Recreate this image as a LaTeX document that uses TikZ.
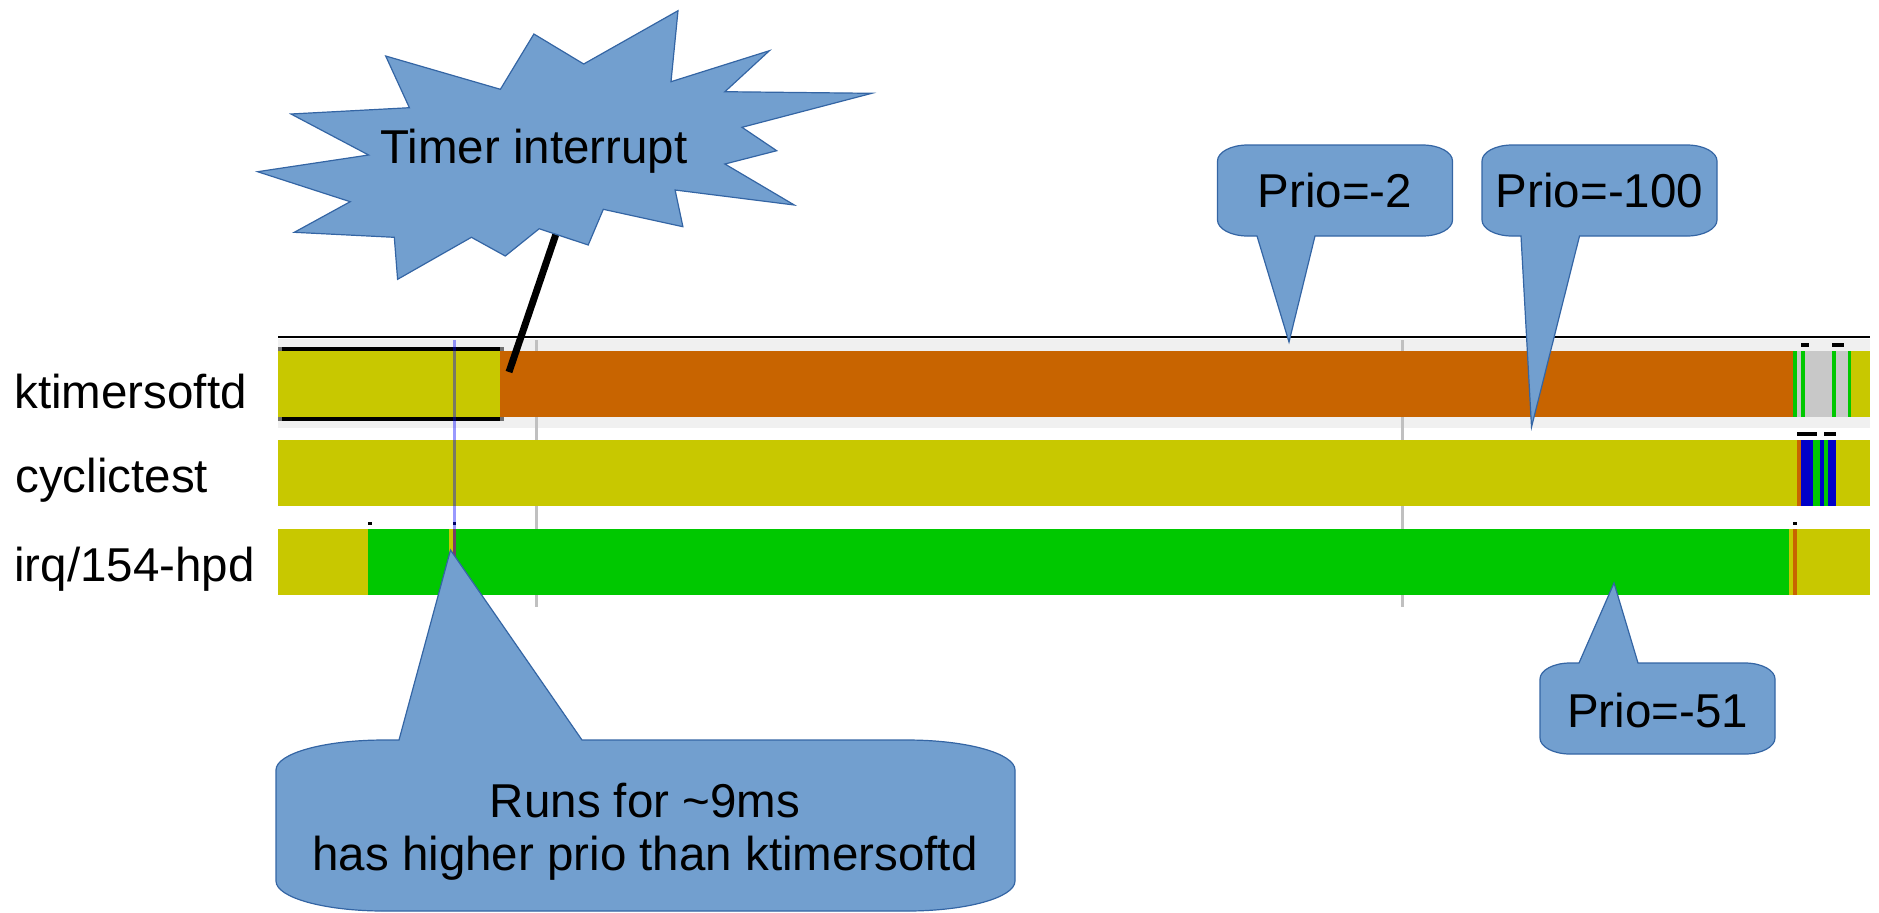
\documentclass[tikz,border=0pt]{standalone}
\usepackage{fontspec}
\setmainfont{Liberation Sans}
\definecolor{tyel}{HTML}{C8C800}
\definecolor{torg}{HTML}{C86400}
\definecolor{tgrn}{HTML}{00C800}
\definecolor{tblu}{HTML}{0000C8}
\definecolor{tlgr}{HTML}{C8C8C8}
\definecolor{tband}{HTML}{F0F0F0}
\definecolor{tgrid}{HTML}{C0C0C0}
\definecolor{thdl}{HTML}{707070}
\definecolor{cfill}{HTML}{729FCF}
\definecolor{cedge}{HTML}{3465A4}
\begin{document}
\begin{tikzpicture}[x=0.5pt,y=-0.5pt,
  bigfont/.style={font=\fontsize{23.75}{26.5}\selectfont},
  lbl/.style={bigfont, anchor=base west, inner sep=0pt},
  ctext/.style={bigfont, anchor=base, inner sep=0pt},
  callout/.style={fill=cfill, draw=cedge, line width=0.6pt, line join=miter},
  gridln/.style={draw=tgrid, line width=1.75pt},
  tick/.style={fill=black},
]
\useasboundingbox (0,0) rectangle (1879,912);

% ktimersoftd background band and top rule
\fill[tband] (278,339) rectangle (1870,428);
\draw[black, line width=1pt] (278,337) -- (1870,337);

% grid lines
\draw[gridln] (536.5,340) -- (536.5,607);
\draw[gridln] (1402.5,340) -- (1402.5,607);

% ktimersoftd bar
\fill[tyel] (278,351) rectangle (500,417);
\fill[torg] (500,351) rectangle (1793,417);
\fill[tgrn] (1793,351) rectangle (1797,417);
\fill[tlgr] (1797,351) rectangle (1801,417);
\fill[tgrn] (1801,351) rectangle (1805,417);
\fill[tlgr] (1805,351) rectangle (1832,417);
\fill[tgrn] (1832,351) rectangle (1836,417);
\fill[tlgr] (1836,351) rectangle (1848,417);
\fill[tgrn] (1848,351) rectangle (1851,417);
\fill[tyel] (1851,351) rectangle (1870,417);

% selection lines on the first slice
\fill[black] (282,347) rectangle (500,351);
\fill[black] (282,417) rectangle (500,421);
\fill[thdl] (278,347) rectangle (282,351);
\fill[thdl] (500,347) rectangle (504,351);
\fill[thdl] (278,417) rectangle (282,421);
\fill[thdl] (500,417) rectangle (504,421);

% cyclictest bar
\fill[tyel] (278,440) rectangle (1797,506);
\fill[torg] (1797,440) rectangle (1801,506);
\fill[tblu] (1801,440) rectangle (1813,506);
\fill[tgrn] (1813,440) rectangle (1820,506);
\fill[tblu] (1820,440) rectangle (1824,506);
\fill[tgrn] (1824,440) rectangle (1828,506);
\fill[tblu] (1828,440) rectangle (1836,506);
\fill[tyel] (1836,440) rectangle (1870,506);

% irq/154-hpd bar
\fill[tyel] (278,529) rectangle (368,595);
\fill[tgrn] (368,529) rectangle (449,595);
\fill[tyel] (449,529) rectangle (453,595);
\fill[torg] (453,529) rectangle (456,595);
\fill[tgrn] (456,529) rectangle (1789,595);
\fill[tyel] (1789,529) rectangle (1793,595);
\fill[torg] (1793,529) rectangle (1797,595);
\fill[tyel] (1797,529) rectangle (1870,595);

% small event marks
\fill[tick] (1801,343) rectangle (1809,347);
\fill[tick] (1832,343) rectangle (1844,347);
\fill[tick] (1797,432) rectangle (1817,436);
\fill[tick] (1824,432) rectangle (1836,436);
\fill[tick] (368,522) rectangle (372,525);
\fill[tick] (453,522) rectangle (456,525);
\fill[tick] (1793,522) rectangle (1797,525);

% cursor line
\draw[blue, opacity=0.4, line width=1.5pt] (454.5,340) -- (454.5,595);

% row labels
\node[lbl] (lk) at (14,408) {ktimersoftd};
\node[lbl] (lc) at (15,492) {cyclictest};
\node[lbl] (li) at (14,581) {irq/154-hpd};

% pointer from the star to ktimersoftd
\coordinate (starfoot) at (558,228);
\coordinate (ktend) at (509,372);
\draw[black, line width=3.5pt] (starfoot) -- (ktend);

% star
\draw[callout] (257.6,171.7) -- (350.2,201.7) -- (294.3,232.3) -- (394.3,237.3)
  -- (397.6,279.3) -- (471.4,237.3) -- (505.3,256) -- (539.2,228.7)
  -- (588.2,245) -- (603.3,209.3) -- (682.9,226.7) -- (675.1,190)
  -- (794.3,205) -- (724.9,164) -- (776.7,150.7) -- (742,127.3)
  -- (871.8,93.3) -- (724.9,91.7) -- (769.4,50.7) -- (671,81.7)
  -- (678,10.7) -- (583.7,64) -- (533.9,34) -- (500.4,89.3)
  -- (385.7,56) -- (409.4,107.7) -- (291,114) -- (368.6,155) -- cycle;
\node[ctext, anchor=base west] (timer) at (380,163) {Timer interrupt};

% callout Prio=-2
\draw[callout] (1247.5,145) -- (1422.5,145) .. controls (1439.1,145) and (1452.5,152.2) .. (1452.5,161)
  -- (1452.5,220) .. controls (1452.5,228.8) and (1439.1,236) .. (1422.5,236)
  -- (1315,236) -- (1289,342) -- (1257,236)
  -- (1247.5,236) .. controls (1230.9,236) and (1217.5,228.8) .. (1217.5,220)
  -- (1217.5,161) .. controls (1217.5,152.2) and (1230.9,145) .. cycle;
\node[ctext] (p2) at (1335,207) {Prio=-2};

% callout Prio=-100
\draw[callout] (1512,145) -- (1687,145) .. controls (1703.6,145) and (1717,152.2) .. (1717,161)
  -- (1717,220) .. controls (1717,228.8) and (1703.6,236) .. (1687,236)
  -- (1579.5,236) -- (1531.5,427) -- (1521,236)
  -- (1512,236) .. controls (1495.4,236) and (1482,228.8) .. (1482,220)
  -- (1482,161) .. controls (1482,152.2) and (1495.4,145) .. cycle;
\node[ctext] (p100) at (1599.5,207) {Prio=-100};

% callout Prio=-51
\draw[callout] (1570,663) -- (1579,663) -- (1614,583) -- (1638,663)
  -- (1745,663) .. controls (1761.6,663) and (1775,670.2) .. (1775,679)
  -- (1775,738) .. controls (1775,746.8) and (1761.6,754) .. (1745,754)
  -- (1570,754) .. controls (1553.4,754) and (1540,746.8) .. (1540,738)
  -- (1540,679) .. controls (1540,670.2) and (1553.4,663) .. cycle;
\node[ctext] (p51) at (1657.5,727) {Prio=-51};

% big callout
\draw[callout] (384,740) -- (399,740) -- (450.5,550) -- (582,740)
  -- (907,740) .. controls (966.6,740) and (1015,753.4) .. (1015,770)
  -- (1015,881) .. controls (1015,897.6) and (966.6,911) .. (907,911)
  -- (384,911) .. controls (324.4,911) and (276,897.6) .. (276,881)
  -- (276,770) .. controls (276,753.4) and (324.4,740) .. cycle;
\node[ctext] (runs1) at (645,817) {Runs for \textasciitilde 9ms};
\node[ctext] (runs2) at (645,870) {has higher prio than ktimersoftd};
\end{tikzpicture}
\end{document}
